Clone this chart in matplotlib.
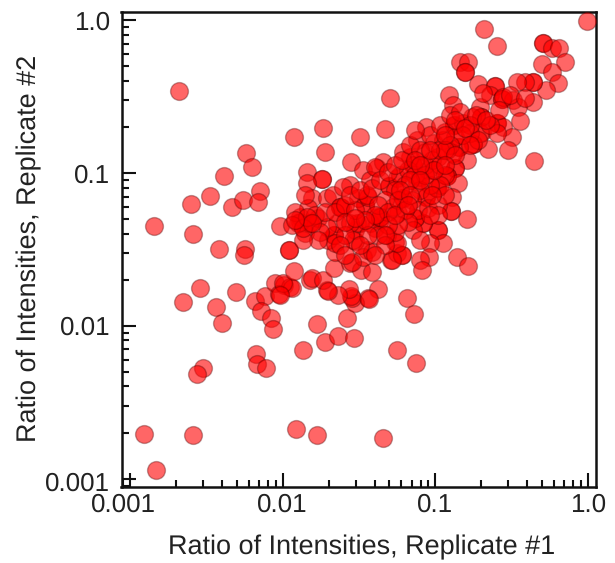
#!/usr/bin/python3

import matplotlib
matplotlib.use("Agg")
from matplotlib import pyplot as plt
from matplotlib import transforms
from matplotlib.ticker import FixedLocator, FixedFormatter, LogLocator, NullFormatter

plt.rcParams['font.family'] = ['Liberation Sans', 'DejaVu Sans']
plt.rcParams['text.hinting'] = 'no_hinting'
plt.rcParams['text.hinting_factor'] = 1

# values, (x, y) kept as two lists per region of the plot
low_x = [.00209, .0118, .00575, .00628, .00413, .00334, .00251, .00465, .0055, .0071, .00689, .00144, .00259, .0096, .00383, .00567, .0056, .011, .011,
         .00287, .00222, .00365, .0040, .00495, .00659, .00766, .00721, .00838, .00863, .00669, .00679, .00778, .0136, .00301, .00275, .00124, .00259, .0122, .0168, .00148, .0454,
         .00891, .0102, .0112, .00946, .0115, .01, .0096, .0118]
low_y = [.342, .171, .135, .109, .0951, .071, .0627, .0595, .0668, .0755, .064, .0452, .040, .0447, .0316, .0316, .0289, .0311, .0311,
         .0176, .0142, .0132, .0104, .0165, .0144, .0156, .0124, .0112, .0095, .0065, .0056, .0053, .0069, .0053, .0048, .00195, .00194, .0021, .00194, .00113, .00183,
         .0189, .0184, .0178, .016, .0176, .0189, .0158, .0227]

under_x = [.0652, .0725, .056, .0748, .0168, .0189, .0232, .0295, .0265, .0421, .0363, .0299, .0286, .0282, .0274, .0232, .0195, .0151, .0155, .0184, .0198, .0369]
under_y = [.0151, .0119, .0069, .0057, .0102, .0078, .0085, .0083, .0112, .0173, .0151, .014, .0151, .0156, .0173, .0158, .0171, .0198, .0205, .0198, .0168, .0149]

mid_x = [.0217, .0221, .0278, .0327, .0386, .0358, .0337, .0386, .0299, .0512, .014, .0151, .0151, .013, .0198, .0217, .0217, .0221, .0299, .0403, .0322, .0434, .056, .0543, .0482,
         .0322, .0184, .0189, .0282, .0144, .0181, .0181, .0144, .0155, .0195, .0214, .0246, .0278, .025, .0347, .0347, .0313, .0363, .0337, .0415, .0374, .013, .0126, .017, .0147, .0228, .0308, .0278, .0415, .0374, .0195]
mid_y = [.0238, .0302, .0256, .0231, .0224, .0311, .028, .0302, .0357, .0268, .0403, .0468, .0468, .0475, .0362, .0391, .0391, .0346, .0421, .0434, .0468, .049, .0298, .0352, .0391,
         .171, .196, .137, .117, .101, .0909, .0909, .0856, .0682, .0682, .0714, .0588, .083, .0806, .0616, .0616, .0682, .0692, .104, .107, .0896, .0512, .0468, .0504, .0588, .0468, .0468, .0468, .0512, .0468, .0441]

high_x = [.985, .208, .253, .506, .506, .578, .642, .706, .498, .578, .632, .529, .434, .434, .434, .386, .342, .145, .163, .156, .156, .19, .245, .245, .228, .273, .273, .322, .347, .123, .13, .196, .358, .253, .253, .199, .199, .277, .317, .299, .221, .441, .0504, .0468,
          .0869, .132, .132, .152, .174, .202, .176, .176, .143, .143, .161, .134, .134, .119, .119, .141, .128, .126, .126, .161, .104, .104, .112, .0923, .138, .163, .0909, .0794, .0818, .0604, .0604, .056, .0543, .0519, .083, .083, .0736, .0736, .0714, .0568, .0434, .0434,
          .0613, .0613, .0869, .0869, .102, .102, .0714, .0714, .0683, .0759, .0613, .0856, .0979, .116, .134, .0497, .0497, .0454, .0403, .0239, .0239, .029, .0286, .0527, .0759, .0794, .0895, .056, .0358, .13, .119, .104, .0965, .253, .196, .168, .112, .277, .205]
high_y = [.985, .873, .676, .705, .705, .655, .655, .53, .515, .456, .386, .347, .29, .392, .392, .392, .392, .53, .53, .456, .456, .381, .369, .369, .322, .304, .304, .299, .27, .322, .278, .27, .218, .211, .211, .232, .232, .199, .171, .141, .143, .119, .308, .193,
          .199, .205, .205, .211, .232, .185, .154, .154, .147, .147, .121, .107, .107, .0951, .0951, .0856, .0692, .0562, .0562, .0497, .0421, .0421, .0346, .0346, .028, .0245, .028, .0268, .0231, .0289, .0289, .0346, .0409, .0268, .0468, .0468, .0504, .0504, .0421, .0545, .0512, .0512,
          .0682, .0682, .0692, .0692, .0794, .0794, .112, .112, .127, .163, .137, .137, .156, .185, .171, .0818, .0818, .117, .109, .0597, .0597, .0362, .026, .0597, .0869, .0937, .104, .0923, .0714, .135, .141, .127, .104, .182, .182, .182, .163, .313, .332]

# the dense band along the diagonal
band_x = [.0585, .0662, .0736, .0856, .0951, .107, .116, .107, .0923, .0794, .0703, .0769, .0895, .104, .116, .0632, .0543, .0468, .0421, .0489, .0568, .0632, .0662, .0568, .0489, .0421, .0363, .0322, .0257, .0239, .0176, .0163, .0189, .0221, .0257, .0299, .0278, .0322, .0386, .0434, .0489, .0543, .0604, .0683, .0794, .0923, .107, .125, .145, .168, .19, .228, .149, .125, .107, .0736, .0794, .104, .0468, .0403, .0257, .017, .0136, .012, .0115, .014, .0136, .0144, .0155, .012,
          .0736, .0856, .0979, .116, .134, .0923, .0794, .0683, .0585, .0683, .0794, .0951, .116, .134, .156, .186, .215, .263, .31, .386, .168, .0923, .0543, .0403, .0347, .0468, .0257, .0299, .0662, .116]
band_y = [.0966, .104, .0966, .112, .121, .112, .0966, .083, .083, .0771, .066, .0571, .0588, .0616, .0714, .083, .0771, .066, .0616, .0553, .066, .0571, .0475, .0454, .0454, .0391, .0391, .0335, .0391, .0335, .0409, .0529, .0553, .0553, .0616, .0571, .0714, .0771, .0794, .0896, .101, .112, .121, .152, .141, .177, .205, .239, .249, .205, .163, .205, .177, .152, .141, .191, .0362, .0529, .0335, .0289, .0289, .0362, .0362, .0553, .0454, .0714, .0434, .0512, .0468, .049,
          .121, .0966, .104, .141, .13, .141, .112, .0896, .0771, .0714, .0896, .0714, .112, .221, .196, .239, .221, .257, .322, .308, .152, .0529, .0529, .0529, .049, .0391, .0475, .0504, .0616, .177]

xticks = [0.001, 0.01, 0.1, 1.0]
yticks = [0.001, 0.01, 0.1, 1.0]
ticklabels = ["0.001", "0.01", "0.1", "1.0"]

figure = plt.figure(figsize=(6.15, 5.63), dpi=100)
ax = figure.add_axes([121.5 / 615, 1 - 487 / 563, (596 - 121.5) / 615, (487 - 12) / 563])

ax.scatter(low_x + under_x + mid_x + high_x + band_x, low_y + under_y + mid_y + high_y + band_y,
           s=165, color=(1, 0, 0, 0.6), edgecolors=(0.3, 0, 0, 0.35), linewidths=1.0, clip_on=False, zorder=3)

ax.set_xscale('log')
ax.set_yscale('log')
ax.set_xlim(0.00088, 1.128)
ax.set_ylim(0.00088, 1.128)

for axis, ticks in ((ax.xaxis, xticks), (ax.yaxis, yticks)):
	axis.set_major_locator(FixedLocator(ticks))
	axis.set_major_formatter(FixedFormatter(ticklabels))
	axis.set_minor_locator(LogLocator(base=10, subs=range(2, 10), numticks=12))
	axis.set_minor_formatter(NullFormatter())

ax.tick_params(which='major', direction='in', length=10, width=1.5, labelsize=18.7, color='#111111', labelcolor='#222222')
ax.tick_params(which='minor', direction='in', length=5, width=1.5, color='#111111')
ax.tick_params(axis='x', which='major', pad=4)
ax.tick_params(axis='y', which='major', pad=8)

for spine in ax.spines.values():
	spine.set_linewidth(1.8)
	spine.set_color('#111111')

# de eerste labels staan iets naast hun streepje
xlabel0 = ax.get_xticklabels()[0]
xlabel0.set_transform(xlabel0.get_transform() + transforms.ScaledTranslation(-6 / 100, 0, figure.dpi_scale_trans))
ylabel0 = ax.get_yticklabels()[0]
ylabel0.set_transform(ylabel0.get_transform() + transforms.ScaledTranslation(0, -3 / 100, figure.dpi_scale_trans))

figure.text(361.5 / 615, 1 - 547 / 563, "Ratio of Intensities, Replicate #1", fontsize=19.4, color='#222222', ha='center', va='center')
figure.text(29 / 615, 1 - 248 / 563, "Ratio of Intensities, Replicate #2", fontsize=19.4, color='#222222', ha='center', va='center', rotation=90)

figure.savefig("out.png", dpi=100)
plt.close()
